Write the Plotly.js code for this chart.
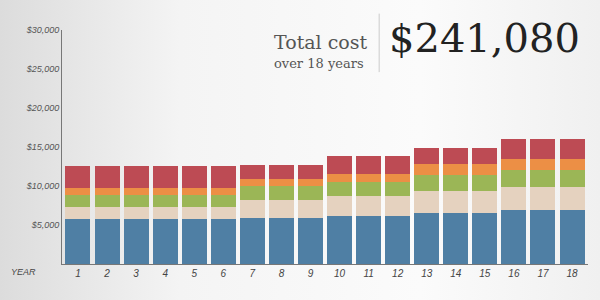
<!DOCTYPE html>
<html>
<head>
<meta charset="utf-8">
<script src="https://cdn.plot.ly/plotly-3.0.1.min.js"></script>
<style>
  html, body { margin: 0; padding: 0; }
  body { width: 600px; height: 300px; background: linear-gradient(90deg, #dcdcdc 0%, #f4f4f4 30%, #fbfbfb 70%, #f0f0f0 100%); }
  #chart { width: 600px; height: 300px; }
</style>
</head>
<body>
<div id="chart"></div>
<script>
// Years
const years = [1,2,3,4,5,6,7,8,9,10,11,12,13,14,15,16,17,18];
// Stacked cost components per year (US$), bottom to top
const seriesBlue   = [5750,5750,5750,5750,5750,5750,5850,5850,5850,6100,6100,6100,6550,6550,6550,6950,6950,6950];
const seriesBeige  = [1500,1500,1500,1500,1500,1500,2300,2300,2300,2600,2600,2600,2750,2750,2750,2900,2900,2900];
const seriesGreen  = [1600,1600,1600,1600,1600,1600,1800,1800,1800,1850,1850,1850,2150,2150,2150,2150,2150,2150];
const seriesOrange = [ 850, 850, 850, 850, 850, 850,1000,1000,1000,1000,1000,1000,1400,1400,1400,1400,1400,1400];
const seriesRed    = [2900,2900,2900,2900,2900,2900,1750,1750,1750,2250,2250,2250,2050,2050,2050,2600,2600,2600];
// Y tick values / labels
const yTicks = [5000,10000,15000,20000,25000,30000];
const yTickLabels = ['$5,000','$10,000','$15,000','$20,000','$25,000','$30,000'];
// Header text
const headTitle = 'Total cost';
const headSub = 'over 18 years';
const headTotal = '$241,080';

const colors = ['#4f7fa4', '#e5d2bf', '#9bb656', '#ec8f45', '#bd4b54'];
const seriesList = [seriesBlue, seriesBeige, seriesGreen, seriesOrange, seriesRed];

const traces = seriesList.map((vals, i) => ({
  type: 'bar',
  x: years,
  y: vals,
  marker: { color: colors[i], line: { width: 0 } },
  hoverinfo: 'y',
  showlegend: false
}));

const layout = {
  width: 600,
  height: 300,
  margin: { l: 62, r: 12, t: 30, b: 36 },
  paper_bgcolor: 'rgba(0,0,0,0)',
  plot_bgcolor: 'rgba(0,0,0,0)',
  barmode: 'stack',
  bargap: 0.14,
  xaxis: {
    tickvals: years,
    ticktext: years.map(String),
    showgrid: false,
    zeroline: false,
    showline: true,
    linecolor: '#777',
    linewidth: 1,
    ticks: '',
    range: [0.45, 18.55],
    tickfont: { family: 'Liberation Sans, Arial, sans-serif', size: 10, color: '#444', style: 'italic' }
  },
  yaxis: {
    range: [0, 30000],
    tickvals: yTicks,
    ticktext: yTickLabels,
    showgrid: false,
    zeroline: false,
    showline: true,
    linecolor: '#777',
    linewidth: 1,
    ticks: '',
    tickfont: { family: 'Liberation Sans, Arial, sans-serif', size: 9, color: '#555', style: 'italic' }
  },
  annotations: [
    { xref: 'paper', yref: 'paper', x: 0.4, y: 0.95, xanchor: 'left', yanchor: 'middle',
      text: headTitle, showarrow: false,
      font: { family: 'DejaVu Serif, serif', size: 19, color: '#555' } },
    { xref: 'paper', yref: 'paper', x: 0.4, y: 0.855, xanchor: 'left', yanchor: 'middle',
      text: headSub, showarrow: false,
      font: { family: 'DejaVu Serif, serif', size: 13, color: '#555' } },
    { xref: 'paper', yref: 'paper', x: 0.618, y: 0.965, xanchor: 'left', yanchor: 'middle',
      text: headTotal, showarrow: false,
      font: { family: 'DejaVu Serif, serif', size: 40, color: '#222' } },
    { xref: 'paper', yref: 'paper', x: -0.1, y: -0.036, xanchor: 'left', yanchor: 'middle',
      text: 'YEAR', showarrow: false,
      font: { family: 'Liberation Sans, Arial, sans-serif', size: 9, color: '#444', style: 'italic' } }
  ],
  shapes: [
    { type: 'line', xref: 'paper', yref: 'paper', x0: 0.603, x1: 0.603, y0: 0.82, y1: 1.07,
      line: { color: '#ccc', width: 1 } }
  ]
};

Plotly.newPlot('chart', traces, layout, { displayModeBar: false, staticPlot: true });
</script>
</body>
</html>
